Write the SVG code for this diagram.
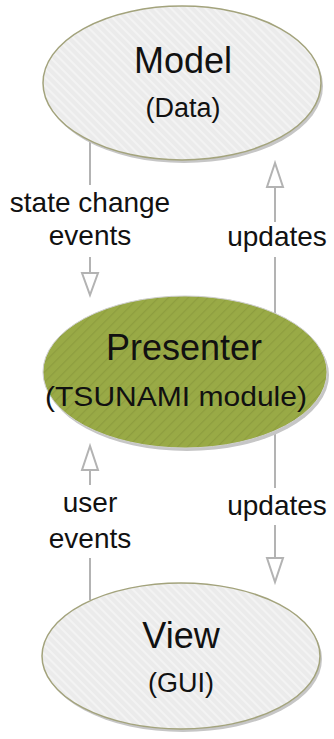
<svg xmlns="http://www.w3.org/2000/svg" width="334" height="739" viewBox="0 0 334 739">
  <style>
    .lbl { font-family: "Liberation Sans", Arial, sans-serif; font-size: 28px; fill: #111; text-anchor: middle; }
    .title { font-family: "Liberation Sans", Arial, sans-serif; font-size: 36px; fill: #111; text-anchor: middle; }
    .sub { font-family: "Liberation Sans", Arial, sans-serif; font-size: 27px; fill: #111; text-anchor: middle; }
    .wire { stroke: #b3b3b3; stroke-width: 2; fill: none; }
    .head { stroke: #b3b3b3; stroke-width: 2; fill: #ffffff; stroke-linejoin: miter; }
    .shadow { fill: #c6c6c6; }
    .grey { fill: url(#greyHatch); stroke: #a3a37c; stroke-width: 1.5; }
    .green { fill: url(#greenHatch); stroke: #cfcfcf; stroke-width: 1; }
  </style>
  <defs>
    <pattern id="greyHatch" patternUnits="userSpaceOnUse" width="6" height="6" patternTransform="rotate(-45)">
      <rect width="6" height="6" fill="#ebebeb"/>
      <rect width="2" height="6" fill="#f3f3f3"/>
    </pattern>
    <pattern id="greenHatch" patternUnits="userSpaceOnUse" width="7" height="7" patternTransform="rotate(45)">
      <rect width="7" height="7" fill="#99aa46"/>
      <rect width="1.2" height="7" fill="#8d9d3f"/>
    </pattern>
  </defs>

  <!-- connectors -->
  <g id="connectors">
    <!-- Model -> Presenter: state change events -->
    <line class="wire" x1="90" y1="140" x2="90" y2="185"/>
    <line class="wire" x1="90" y1="257" x2="90" y2="273"/>
    <polygon class="head" points="82,273 98,273 90,295"/>
    <!-- Presenter -> Model: updates -->
    <line class="wire" x1="275" y1="187" x2="275" y2="222"/>
    <line class="wire" x1="275" y1="257" x2="275" y2="320"/>
    <polygon class="head" points="275,163 267,187 283,187"/>
    <!-- View -> Presenter: user events -->
    <line class="wire" x1="90" y1="470" x2="90" y2="485"/>
    <line class="wire" x1="90" y1="558" x2="90" y2="600"/>
    <polygon class="head" points="90,446 82,470 98,470"/>
    <!-- Presenter -> View: updates -->
    <line class="wire" x1="275" y1="420" x2="275" y2="488"/>
    <line class="wire" x1="275" y1="525" x2="275" y2="558"/>
    <polygon class="head" points="267,558 283,558 275,582"/>

    <text class="lbl" x="90" y="212">state change</text>
    <text class="lbl" x="90" y="245">events</text>
    <text class="lbl" x="277" y="246">updates</text>
    <text class="lbl" x="90" y="512">user</text>
    <text class="lbl" x="90" y="548">events</text>
    <text class="lbl" x="277" y="515">updates</text>
  </g>

  <g id="model">
    <ellipse class="shadow" cx="184" cy="86" rx="139" ry="77"/>
    <ellipse class="grey" cx="182" cy="83" rx="139" ry="77"/>
    <text class="title" x="183" y="73">Model</text>
    <text class="sub" x="183" y="117">(Data)</text>
  </g>

  <g id="presenter">
    <ellipse class="shadow" cx="187" cy="375" rx="142" ry="76"/>
    <ellipse class="green" cx="185" cy="372" rx="142" ry="76"/>
    <text class="title" x="184" y="360">Presenter</text>
    <text class="sub" x="176" y="406" font-size="30" textLength="262" lengthAdjust="spacingAndGlyphs">(TSUNAMI module)</text>
  </g>

  <g id="view">
    <ellipse class="shadow" cx="183" cy="659" rx="139" ry="73"/>
    <ellipse class="grey" cx="181" cy="656" rx="139" ry="73"/>
    <text class="title" x="181" y="648">View</text>
    <text class="sub" x="181" y="692">(GUI)</text>
  </g>
</svg>
